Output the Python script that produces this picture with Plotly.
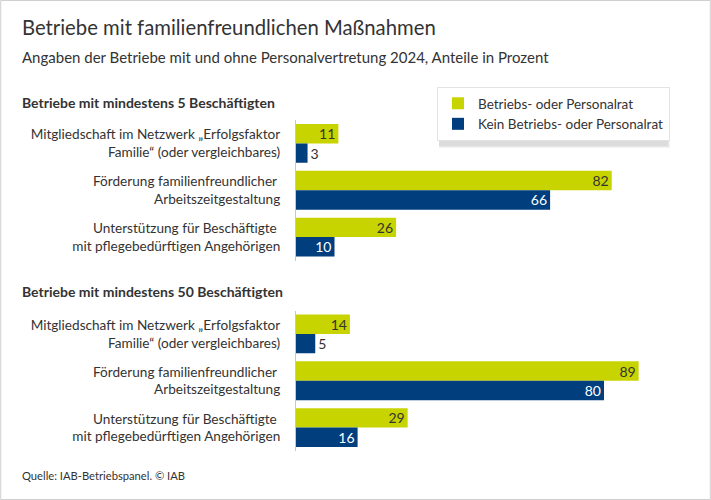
import plotly.graph_objects as go

categories = [
    "Mitgliedschaft im Netzwerk „Erfolgsfaktor<br>Familie“ (oder vergleichbares)",
    "Förderung familienfreundlicher <br>Arbeitszeitgestaltung",
    "Unterstützung für Beschäftigte <br>mit pflegebedürftigen Angehörigen",
]
series_names = ["Betriebs- oder Personalrat", "Kein Betriebs- oder Personalrat"]
group_titles = ["Betriebe mit mindestens 5 Beschäftigten", "Betriebe mit mindestens 50 Beschäftigten"]
g5_with = [11, 82, 26]
g5_without = [3, 66, 10]
g50_with = [14, 89, 29]
g50_without = [5, 80, 16]

YELLOW = "#c8d400"
BLUE = "#003e7e"
TXT = "#333333"
FONT = "Lato"

W, H = 711, 500
fig = go.Figure()

def pos(vals):
    return ["outside" if v < 8 else "inside" for v in vals]

groups = [(g5_with, g5_without, "y", "x"), (g50_with, g50_without, "y2", "x2")]
for gi, (a, b, ya, xa) in enumerate(groups):
    for vals, name, col, intxt in [(a, series_names[0], YELLOW, TXT), (b, series_names[1], BLUE, "white")]:
        fig.add_trace(go.Bar(
            y=categories, x=vals, orientation="h", name=name,
            marker=dict(color=col, line=dict(width=0)),
            text=[str(v) for v in vals], textposition=pos(vals),
            insidetextanchor="end",
            insidetextfont=dict(color=intxt, size=14, family=FONT),
            outsidetextfont=dict(color=TXT, size=14, family=FONT),
            textangle=0, cliponaxis=False,
            showlegend=(gi == 0), xaxis=xa, yaxis=ya, hoverinfo="skip",
        ))

xdom = [296 / W, 681 / W]
def ydom(top, bottom):
    return [1 - bottom / H, 1 - top / H]

axis_common = dict(range=[0, 100], showgrid=False, showticklabels=False, zeroline=False,
                   showline=False, ticks="")
yax_common = dict(type="category", autorange="reversed", showgrid=False, zeroline=False,
                  showline=True, linecolor="#c8c8c8", linewidth=1, ticks="",
                  tickfont=dict(size=13.6, color=TXT, family=FONT), ticklabelstandoff=12)

LEG_X0, LEG_X1, LEG_Y0, LEG_Y1 = 437, 667, 87, 145

fig.update_layout(
    width=W, height=H,
    margin=dict(l=0, r=0, t=0, b=0),
    paper_bgcolor="white", plot_bgcolor="white",
    barmode="group", bargap=0.17, bargroupgap=0,
    font=dict(family=FONT, color=TXT),
    uniformtext=dict(minsize=14, mode="show"),
    xaxis=dict(domain=xdom, anchor="y", **axis_common),
    yaxis=dict(domain=ydom(120, 260.5), anchor="x", **yax_common),
    xaxis2=dict(domain=xdom, anchor="y2", **axis_common),
    yaxis2=dict(domain=ydom(310.5, 451), anchor="x2", **yax_common),
    legend=dict(x=LEG_X0 / W, y=1 - LEG_Y0 / H, xanchor="left", yanchor="top",
                bgcolor="white", bordercolor="#e3e3e3", borderwidth=1,
                font=dict(size=13.5, color=TXT, family=FONT),
                itemsizing="constant", tracegroupgap=4, itemwidth=30,
                entrywidth=LEG_X1 - LEG_X0 - 32),
    showlegend=True,
)

# legend soft shadow
for i, c in enumerate(["#f3f3f3", "#e8e8e8", "#dcdcdc"]):
    d = 3 - i
    fig.add_shape(type="rect", xref="paper", yref="paper", layer="below",
                  x0=(LEG_X0 + 2) / W, x1=(LEG_X1 + d) / W,
                  y0=1 - (LEG_Y1 + d) / H, y1=1 - (LEG_Y0 + 2) / H,
                  line=dict(width=0), fillcolor=c)

# outer frame
fig.add_shape(type="rect", xref="paper", yref="paper", x0=0.001, x1=0.999, y0=0.001, y1=0.999,
              line=dict(color="#cfcfcf", width=1), fillcolor="rgba(0,0,0,0)")

ann = [
    ("Betriebe mit familienfreundlichen Maßnahmen", 20, 27, 20.3),
    ("Angaben der Betriebe mit und ohne Personalvertretung 2024, Anteile in Prozent", 20, 57, 15),
    (f"<b>{group_titles[0]}</b>", 20, 103, 14),
    (f"<b>{group_titles[1]}</b>", 20, 291, 14),
    ("Quelle: IAB-Betriebspanel. © IAB", 20, 475, 11.2),
]
for t, x, y, s in ann:
    fig.add_annotation(text=t, xref="paper", yref="paper", x=x / W, y=1 - y / H,
                       xanchor="left", yanchor="middle", showarrow=False,
                       font=dict(size=s, color=TXT, family=FONT))

fig.write_html("out.html", config={"displayModeBar": False},
               post_script="document.body.style.margin='0';document.body.style.overflow='hidden';")
